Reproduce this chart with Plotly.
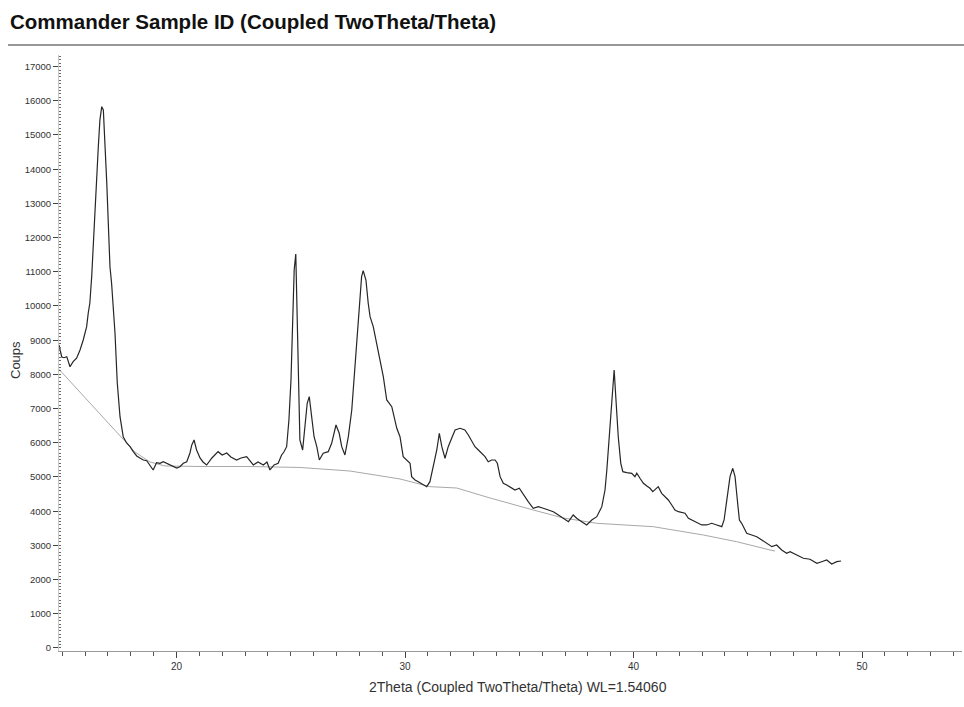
import plotly.graph_objects as go

# Diffraction scan (2Theta in degrees, counts)
two_theta = [14.86, 14.98, 15.08, 15.20, 15.34, 15.48, 15.63, 15.78, 15.92, 16.07,
             16.14, 16.21, 16.29, 16.36, 16.51, 16.58, 16.65, 16.73, 16.80, 16.87,
             16.95, 17.09, 17.16, 17.31, 17.41, 17.53, 17.67, 17.82, 17.97, 18.11,
             18.26, 18.40, 18.55, 18.70, 18.84, 18.98, 19.13, 19.28, 19.42, 19.57,
             19.72, 19.86, 20.01, 20.15, 20.30, 20.45, 20.59, 20.67, 20.77, 20.88,
             21.03, 21.16, 21.32, 21.55, 21.82, 22.00, 22.20, 22.38, 22.63, 22.82,
             23.07, 23.22, 23.36, 23.57, 23.80, 23.96, 24.09, 24.27, 24.45, 24.60,
             24.70, 24.82, 24.92, 25.01, 25.07, 25.15, 25.22, 25.26, 25.33, 25.40,
             25.52, 25.62, 25.72, 25.81, 25.92, 26.02, 26.14, 26.25, 26.42, 26.64,
             26.79, 26.98, 27.12, 27.23, 27.37, 27.52, 27.67, 27.81, 27.96, 28.10,
             28.17, 28.29, 28.39, 28.47, 28.61, 28.76, 28.91, 29.05, 29.20, 29.42,
             29.64, 29.78, 29.92, 30.07, 30.22, 30.29, 30.44, 30.58, 30.80, 30.95,
             31.09, 31.24, 31.39, 31.50, 31.61, 31.75, 31.89, 32.04, 32.19, 32.41,
             32.62, 32.77, 32.92, 33.06, 33.21, 33.36, 33.50, 33.64, 33.79, 33.94,
             34.04, 34.16, 34.30, 34.45, 34.59, 34.81, 35.00, 35.18, 35.39, 35.61,
             35.83, 36.05, 36.27, 36.49, 36.71, 36.93, 37.15, 37.36, 37.51, 37.73,
             37.95, 38.17, 38.39, 38.61, 38.75, 38.83, 38.97, 39.07, 39.15, 39.23,
             39.33, 39.44, 39.53, 39.70, 39.92, 40.06, 40.14, 40.28, 40.43, 40.58,
             40.72, 40.84, 40.94, 41.08, 41.23, 41.38, 41.52, 41.67, 41.81, 41.96,
             42.11, 42.25, 42.40, 42.54, 42.69, 42.83, 42.98, 43.20, 43.42, 43.64,
             43.86, 43.96, 44.08, 44.22, 44.34, 44.44, 44.54, 44.63, 44.73, 44.95,
             45.17, 45.39, 45.61, 45.83, 46.05, 46.26, 46.48, 46.70, 46.85, 47.14,
             47.43, 47.72, 48.02, 48.23, 48.45, 48.67, 48.89, 49.08]

counts = [8860, 8509, 8488, 8518, 8225, 8372, 8471, 8714, 9006, 9395,
          9795, 10088, 10857, 11842, 13781, 14658, 15439, 15828, 15731, 14766,
          13597, 11149, 10673, 9211, 7749, 6763, 6178, 5994, 5886, 5740,
          5614, 5556, 5497, 5477, 5351, 5205, 5418, 5401, 5447, 5401,
          5351, 5301, 5263, 5301, 5401, 5447, 5702, 5936, 6082, 5790,
          5556, 5439, 5351, 5556, 5740, 5643, 5702, 5585, 5497, 5556,
          5594, 5468, 5351, 5439, 5351, 5439, 5205, 5351, 5401, 5643,
          5731, 5886, 6667, 7836, 9298, 11053, 11521, 10272, 7836, 6082,
          5790, 6570, 7155, 7348, 6763, 6178, 5886, 5497, 5693, 5740,
          5985, 6520, 6278, 5886, 5643, 6178, 6959, 8325, 9787, 10857,
          11032, 10760, 10079, 9687, 9395, 8909, 8325, 7933, 7252, 7056,
          6424, 6178, 5594, 5497, 5401, 5009, 4912, 4863, 4766, 4717,
          4863, 5301, 5790, 6278, 5886, 5547, 5886, 6132, 6374, 6424,
          6374, 6228, 6032, 5886, 5790, 5693, 5594, 5447, 5497, 5497,
          5401, 5009, 4816, 4766, 4717, 4620, 4670, 4474, 4278, 4085,
          4132, 4085, 4035, 3985, 3889, 3792, 3693, 3889, 3792, 3693,
          3597, 3743, 3839, 4132, 4620, 5205, 6471, 7640, 8129, 7252,
          6178, 5401, 5155, 5126, 5108, 5009, 5108, 4962, 4816, 4737,
          4670, 4570, 4620, 4717, 4523, 4424, 4328, 4181, 4035, 3985,
          3956, 3939, 3792, 3743, 3693, 3646, 3597, 3597, 3646, 3597,
          3547, 3743, 4328, 5009, 5254, 5009, 4328, 3743, 3646, 3354,
          3304, 3254, 3158, 3061, 2962, 3012, 2866, 2769, 2816, 2719,
          2623, 2594, 2477, 2523, 2573, 2456, 2523, 2544]

# Background line
bg_theta = [14.86, 17.62, 18.18, 18.84, 19.50, 21.03, 23.22, 25.40, 27.59, 29.78,
            31.09, 32.26, 33.72, 35.61, 36.93, 38.39, 40.86, 43.05, 44.51, 45.97, 46.19]
bg_counts = [8149, 6132, 5731, 5439, 5322, 5307, 5307, 5278, 5175, 4942,
             4717, 4678, 4386, 4035, 3801, 3646, 3547, 3304, 3108, 2866, 2836]

x_tickvals = [20, 30, 40, 50]
y_tickvals = list(range(0, 18000, 1000))

title_text = "Commander Sample ID (Coupled TwoTheta/Theta)"
x_title = "2Theta (Coupled TwoTheta/Theta) WL=1.54060"
y_title = "Coups"

W, H = 964, 707
L, R, T, B = 59, 962, 55, 651
pw, ph = R - L, B - T


def px(x):
    return (x - L) / pw


def py(y):
    return (B - y) / ph


fig = go.Figure()
fig.add_trace(go.Scatter(x=bg_theta, y=bg_counts, mode="lines",
                         line=dict(color="#a8a8a8", width=1), hoverinfo="skip"))
fig.add_trace(go.Scatter(x=two_theta, y=counts, mode="lines",
                         line=dict(color="#262626", width=1.2)))

font = "Liberation Sans, Arial, sans-serif"
fig.update_layout(
    width=W, height=H,
    margin=dict(l=L, r=W - R, t=T, b=H - B, autoexpand=False),
    paper_bgcolor="white", plot_bgcolor="white",
    showlegend=False,
    font=dict(family=font, color="#333"),
    xaxis=dict(range=[14.86, 54.37], tickvals=x_tickvals, showgrid=False,
               zeroline=False, showline=True, linecolor="#999", linewidth=1,
               ticks="outside", ticklen=6, tickcolor="#444", automargin=False,
               tickfont=dict(size=10, color="#333"),
               minor=dict(dtick=1, ticks="outside", ticklen=4, tickcolor="#555")),
    yaxis=dict(range=[-88, 17339], tickvals=y_tickvals, tickformat="d",
               showgrid=False, automargin=False,
               zeroline=False, showline=True, linecolor="#c8c8c8", linewidth=1,
               ticks="outside", ticklen=5, tickcolor="#444",
               tickfont=dict(size=9.5, color="#333"),
               minor=dict(dtick=100, ticks="inside", ticklen=2, tickcolor="#666")),
    annotations=[
        dict(text=title_text, x=px(8), y=py(21), xref="paper", yref="paper",
             xanchor="left", yanchor="middle", showarrow=False,
             font=dict(size=20.5, color="#111", family=font, weight="bold")),
        dict(text=x_title, x=px(518), y=py(687), xref="paper", yref="paper",
             xanchor="center", yanchor="middle", showarrow=False,
             font=dict(size=14, color="#333", family=font)),
        dict(text=y_title, x=px(15), y=py(360), xref="paper", yref="paper",
             xanchor="center", yanchor="middle", showarrow=False, textangle=-90,
             font=dict(size=13, color="#333", family=font)),
    ],
    shapes=[dict(type="line", xref="paper", yref="paper",
                 x0=px(8), x1=px(964), y0=py(45), y1=py(45),
                 line=dict(color="#333", width=1.2))],
)

fig.write_html("out.html",
               config={"displayModeBar": False},
               post_script="document.body.style.margin='0';"
                           "document.body.style.overflow='hidden';")
